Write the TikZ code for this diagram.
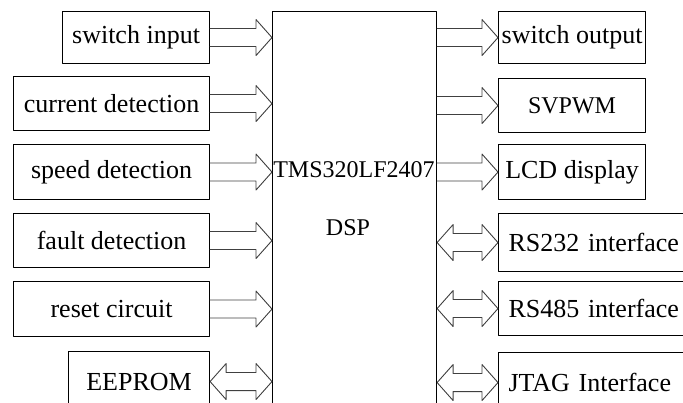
\documentclass[tikz,border=0pt]{standalone}
\usepackage{fontspec}
\setmainfont{Liberation Serif}
\usetikzlibrary{calc,positioning}

\def\InRight{209}
\def\ChipLeft{272}
\def\ChipTop{11}
\def\OutLeft{498}
\def\HeadLen{16pt}
\def\ShaftW{9pt}
\def\HeadW{18pt}

\begin{document}
\begin{tikzpicture}[
  x=1pt, y=-1pt, line cap=round, line join=round,
  blk/.style ={draw, line width=1.1pt, inner sep=0pt, anchor=north west,
               font=\fontsize{26}{30}\selectfont},
  wide/.style={text width=185pt, align=left, inner xsep=10pt},
  link/.style={draw=black!75, line width=0.9pt},
  % hollow block arrow, head at the target end
  fatarrow/.style={link, to path={
    let \p1=(\tikztostart), \p2=(\tikztotarget) in
    (\x1,\y1+\ShaftW) -- (\x2-\HeadLen,\y1+\ShaftW) -- (\x2-\HeadLen,\y1+\HeadW)
    -- (\x2,\y1) -- (\x2-\HeadLen,\y1-\HeadW) -- (\x2-\HeadLen,\y1-\ShaftW)
    -- (\x1,\y1-\ShaftW)}},
  % hollow block arrow, heads at both ends
  dblarrow/.style={link, to path={
    let \p1=(\tikztostart), \p2=(\tikztotarget) in
    (\x1,\y1) -- (\x1+\HeadLen,\y1+\HeadW) -- (\x1+\HeadLen,\y1+\ShaftW)
    -- (\x2-\HeadLen,\y1+\ShaftW) -- (\x2-\HeadLen,\y1+\HeadW) -- (\x2,\y1)
    -- (\x2-\HeadLen,\y1-\HeadW) -- (\x2-\HeadLen,\y1-\ShaftW)
    -- (\x1+\HeadLen,\y1-\ShaftW) -- (\x1+\HeadLen,\y1-\HeadW) -- cycle}}
]
\useasboundingbox (0,0) rectangle (683,403);
\clip (0,0) rectangle (683,403);

% --- DSP chip --------------------------------------------------------
\node[draw, line width=1.1pt, minimum width=164, minimum height=420,
      anchor=north west] (dsp) at (\ChipLeft,\ChipTop) {};
\node[font=\fontsize{24}{28}\selectfont] (chipname) at (354,170) {TMS320LF2407};
\node[font=\fontsize{24}{28}\selectfont] (dsplabel) at (348,228) {DSP};

% --- Input side ------------------------------------------------------
\foreach \nm/\x/\y/\h/\txt in {swin/62/11/52/switch input,
    curdet/13/76/54/current detection, spddet/13/144/55/speed detection,
    fltdet/13/213/54/fault detection, rstc/13/281/55/reset circuit,
    eeprom/68/351/60/EEPROM}
  \node[blk, minimum width={\InRight-\x}, minimum height=\h] (\nm) at (\x,\y) {\txt};

\foreach \nm in {swin,curdet,spddet,fltdet,rstc}
  \draw[fatarrow] (\nm.east) to (\nm.east -| dsp.west);
\draw[dblarrow] (eeprom.east) to (eeprom.east -| dsp.west);

% --- Output side -----------------------------------------------------
\foreach \nm/\y/\h/\txt in {swout/11/52/switch output,
    svpwm/78/54/{\fontsize{24}{28}\selectfont SVPWM\hspace{10pt}},
    lcd/144/55/LCD display}
  \node[blk, minimum width=147, minimum height=\h] (\nm) at (\OutLeft,\y) {\txt};

\foreach \nm/\y/\h/\txt in {rs232/213/58/RS232 interface,
    rs485/281/54/RS485 interface, jtag/352/60/JTAG Interface}
  \node[blk, wide, minimum height=\h] (\nm) at (\OutLeft,\y) {\txt};

\foreach \nm in {swout,svpwm,lcd}
  \draw[fatarrow] (\nm.west -| dsp.east) to (\nm.west);
\foreach \nm in {rs232,rs485,jtag}
  \draw[dblarrow] (\nm.west -| dsp.east) to (\nm.west);

\end{tikzpicture}
\end{document}
